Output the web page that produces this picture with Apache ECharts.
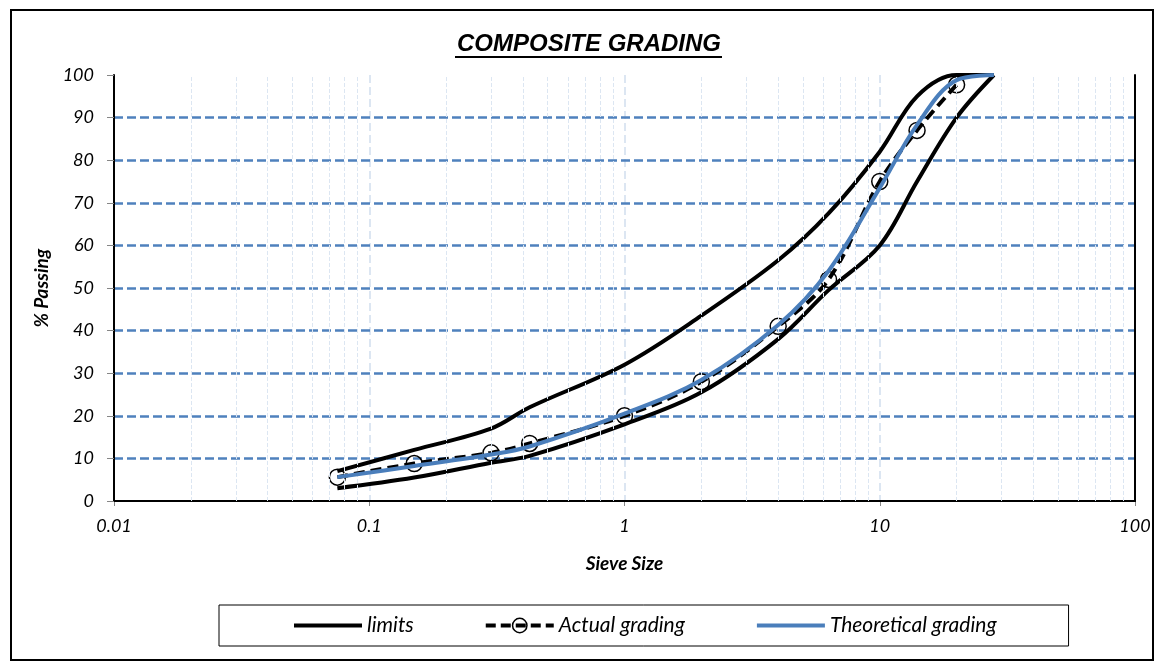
<!DOCTYPE html>
<html>
<head>
<meta charset="utf-8">
<script src="https://cdn.jsdelivr.net/npm/echarts@6/dist/echarts.min.js"></script>
<style>
html,body{margin:0;padding:0;background:#fff}
#chart{width:1165px;height:670px}
</style>
</head>
<body>
<div id="chart"></div>
<script>
// limits (upper / lower envelope)
var limitSizes = [0.075, 0.15, 0.3, 0.425, 1, 2, 4, 6.3, 10, 14, 20, 28];
var upperLimit = [7, 12, 17, 22, 32, 43.5, 56.5, 67.5, 82, 95, 100, 100];
var lowerLimit = [3, 5.5, 9, 10.6, 18, 25.5, 38, 49.5, 60, 75, 90, 100];

// actual grading (with markers)
var actualSizes = [0.075, 0.15, 0.3, 0.425, 1, 2, 4, 6.3, 10, 14, 20];
var actualPassing = [5.6, 8.8, 11.3, 13.5, 20, 28, 41, 52, 75, 87, 97.7];

// theoretical grading
var theoSizes = [0.075, 0.15, 0.3, 0.425, 1, 2, 4, 6.3, 10, 14, 20, 28];
var theoPassing = [5.6, 8.2, 10.9, 12.8, 20.5, 28.4, 41.3, 54, 73.5, 88.3, 98.8, 100];

// minor vertical gridlines of the log axis
var minorLines = [0.02, 0.03, 0.04, 0.05, 0.06, 0.07, 0.08, 0.09,
	0.2, 0.3, 0.4, 0.5, 0.6, 0.7, 0.8, 0.9,
	2, 3, 4, 5, 6, 7, 8, 9,
	20, 30, 40, 50, 60, 70, 80, 90];

function pairs(xs, ys){
	var out = [];
	for (var i = 0; i < xs.length; i++) {
		out.push([xs[i], ys[i]]);
	}
	return out;
}

var labelFont = 'Lato, "Open Sans", sans-serif';
var noMarker = { color: 'rgba(0,0,0,0)', borderWidth: 0, opacity: 0 };

var chart = echarts.init(document.getElementById('chart'));
var option = {
	animation: false,
	backgroundColor: '#fff',
	graphic: [
		{ type: 'rect', shape: { x: 11, y: 10, width: 1142, height: 650 },
			style: { fill: 'none', stroke: '#000', lineWidth: 2 }, z: 0 },
		{ type: 'text', x: 589, y: 44,
			style: { text: 'COMPOSITE GRADING', font: 'italic bold 24px "Liberation Sans", Arial, sans-serif',
				fill: '#000', textAlign: 'center', textVerticalAlign: 'middle' } },
		{ type: 'line', shape: { x1: 455, y1: 57, x2: 722, y2: 57 },
			style: { stroke: '#000', lineWidth: 2 } }
	],
	grid: {
		left: 114, right: 30, top: 75, bottom: 169
	},
	legend: {
		left: 219, top: 605,
		padding: [10, 72, 10, 73],
		borderColor: '#000', borderWidth: 1,
		itemWidth: 68, itemHeight: 18, itemGap: 70,
		data: [
			{ name: 'limits', itemStyle: noMarker, lineStyle: { width: 4, color: '#000' } },
			{ name: 'Actual grading', lineStyle: { width: 4, color: '#000', type: [10, 5] },
				itemStyle: { color: 'rgba(0,0,0,0)', borderColor: '#000', borderWidth: 1.5 } },
			{ name: 'Theoretical grading', itemStyle: noMarker, lineStyle: { width: 4, color: '#4a7ebb' } }
		],
		textStyle: { fontFamily: labelFont, fontStyle: 'italic', fontSize: 21, color: '#000' }
	},
	xAxis: [{
		type: 'log',
		logBase: 10,
		min: 0.01,
		max: 100,
		name: 'Sieve Size',
		nameLocation: 'middle',
		nameGap: 53,
		nameTextStyle: { fontFamily: labelFont, fontStyle: 'italic', fontWeight: 'bold', fontSize: 19, color: '#000' },
		axisLine: { lineStyle: { color: '#868686', width: 2 } },
		axisTick: { show: true, length: 5, lineStyle: { color: '#868686' } },
		axisLabel: { margin: 16, fontFamily: labelFont, fontStyle: 'italic', fontSize: 18, color: '#000',
			formatter: function (v) { return String(v); } },
		splitLine: { show: true, showMinLine: false, showMaxLine: false,
			lineStyle: { color: '#dce6f2', width: 2, type: [8, 4] } }
	}, {
		type: 'log',
		logBase: 10,
		min: 0.01,
		max: 100,
		position: 'top',
		z: 3,
		axisLine: { show: true, lineStyle: { color: '#000', width: 2 } },
		axisTick: { show: false },
		axisLabel: { show: false },
		splitLine: { show: false }
	}],
	yAxis: [{
		type: 'value',
		min: 0,
		max: 100,
		interval: 10,
		name: '% Passing',
		nameLocation: 'middle',
		nameGap: 63,
		z: 3,
		nameTextStyle: { fontFamily: labelFont, fontStyle: 'italic', fontWeight: 'bold', fontSize: 19, color: '#000' },
		axisLine: { show: true, lineStyle: { color: '#000', width: 2 } },
		axisTick: { show: true, length: 7, lineStyle: { color: '#868686' } },
		axisLabel: { margin: 20, fontFamily: labelFont, fontStyle: 'italic', fontSize: 18, color: '#000' },
		splitLine: { show: true, showMinLine: false, showMaxLine: false,
			lineStyle: { color: '#4f81bd', width: 2.5, type: [9, 4] } }
	}, {
		type: 'value',
		min: 0,
		max: 100,
		interval: 10,
		position: 'right',
		z: 3,
		axisLine: { show: true, lineStyle: { color: '#000', width: 2 } },
		axisTick: { show: false },
		axisLabel: { show: false },
		splitLine: { show: false }
	}],
	series: [
		{
			name: 'minor', type: 'line', data: [], silent: true, z: 1,
			markLine: {
				silent: true, symbol: 'none', animation: false,
				label: { show: false },
				lineStyle: { color: '#dce6f2', width: 1, type: [4, 2] },
				data: minorLines.map(function (v) { return { xAxis: v }; })
			}
		},
		{
			name: 'limits', type: 'line', smooth: 0.35, showSymbol: false, symbol: 'none',
			data: pairs(limitSizes, upperLimit),
			lineStyle: { color: '#000', width: 4 }, itemStyle: { color: '#000' }, z: 3
		},
		{
			name: 'limits', type: 'line', smooth: 0.35, showSymbol: false, symbol: 'none',
			data: pairs(limitSizes, lowerLimit),
			lineStyle: { color: '#000', width: 4 }, itemStyle: { color: '#000' }, z: 3
		},
		{
			name: 'Actual grading', type: 'line', smooth: 0.35,
			symbol: 'circle', symbolSize: 16,
			data: pairs(actualSizes, actualPassing),
			lineStyle: { color: '#000', width: 4, type: [11, 6] },
			itemStyle: { color: 'rgba(0,0,0,0)', borderColor: '#000', borderWidth: 1.5 },
			z: 4
		},
		{
			name: 'Theoretical grading', type: 'line', smooth: 0.35, showSymbol: false, symbol: 'none',
			data: pairs(theoSizes, theoPassing),
			lineStyle: { color: '#4a7ebb', width: 4 }, itemStyle: { color: '#4a7ebb' }, z: 5
		}
	]
};
chart.setOption(option);
</script>
</body>
</html>
